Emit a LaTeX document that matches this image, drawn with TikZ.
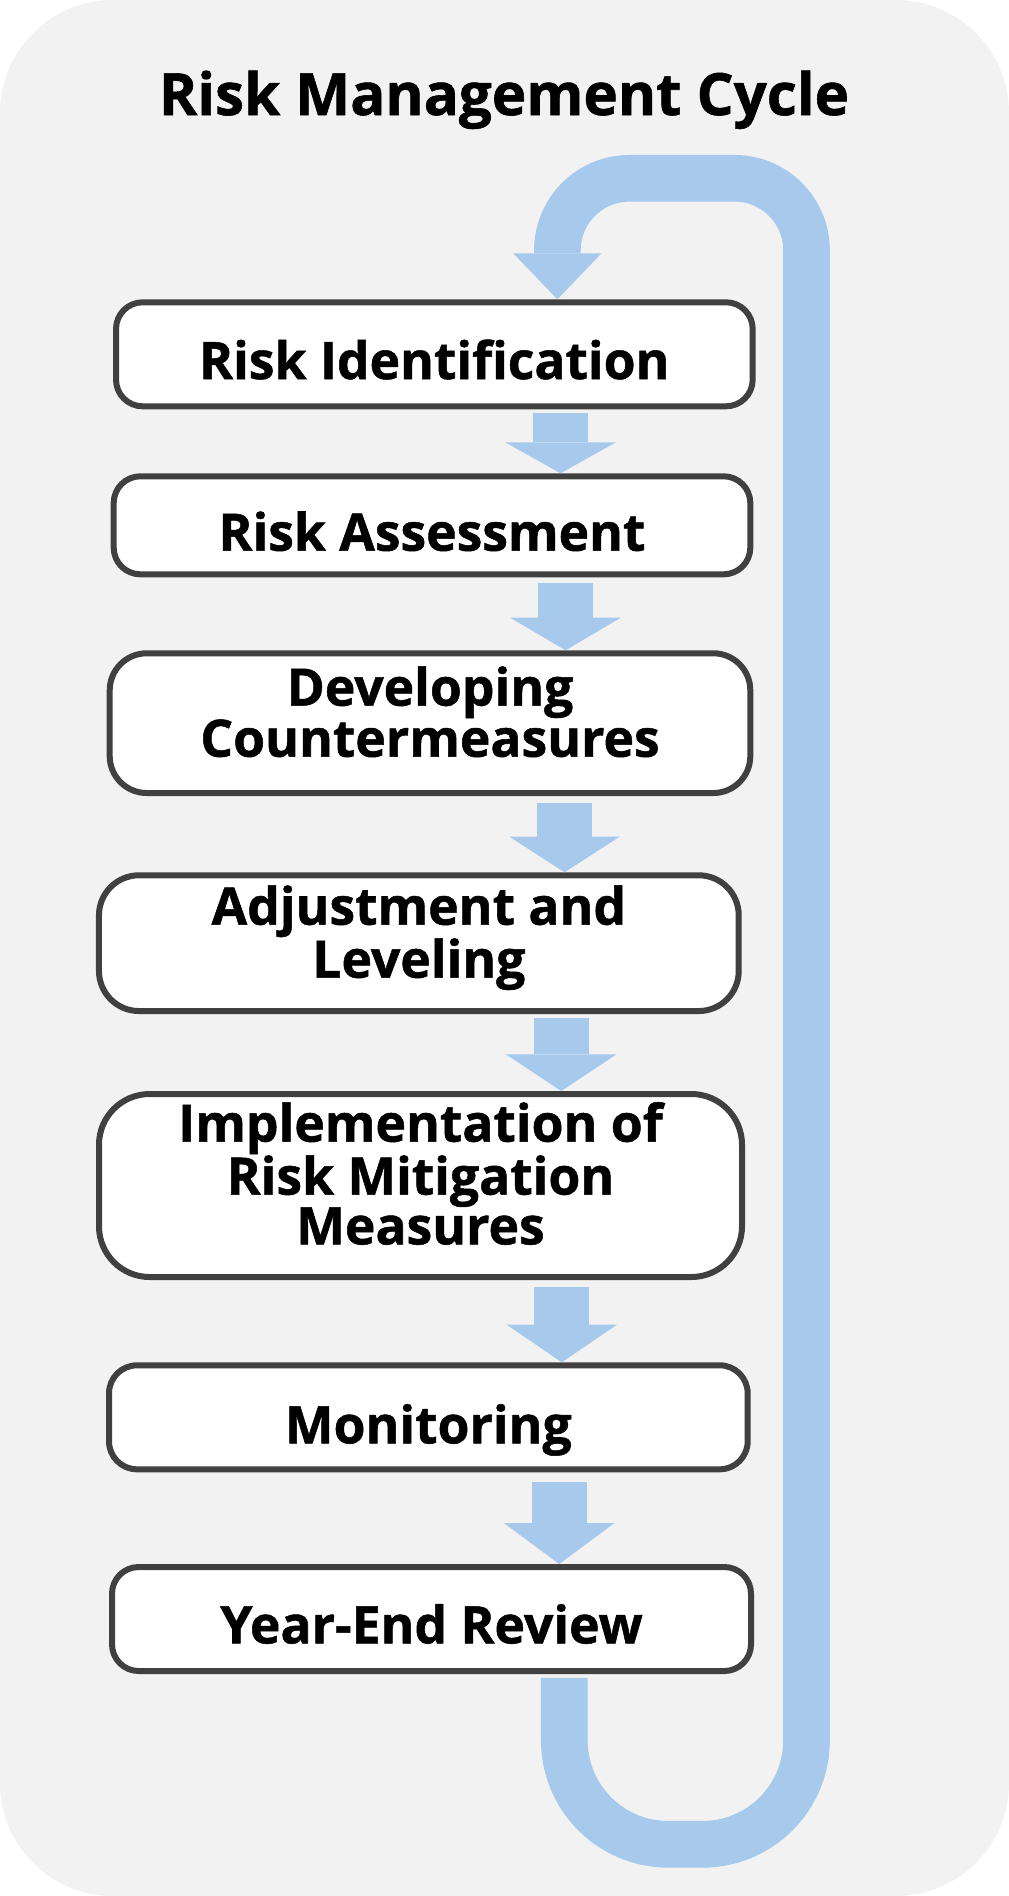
\documentclass[tikz,border=0pt]{standalone}
\usepackage{fontspec}
\setmainfont{Open Sans}[BoldFeatures={FakeBold=1}]
\usetikzlibrary{arrows.meta}
\definecolor{bgc}{HTML}{F2F2F2}
\definecolor{arrc}{HTML}{A7CAEC}
\definecolor{boxc}{HTML}{404040}
\begin{document}
\begin{tikzpicture}[x=0.75pt,y=-0.75pt,
  stepbox/.style={draw=boxc, line width=4.5pt, fill=white, rectangle, inner sep=0pt, rounded corners=#1},
  lbl/.style={anchor=base, inner sep=0pt, align=center, font=\fontsize{38.7}{37.3}\selectfont\bfseries},
  blockarr/.style={draw=arrc, line width=41.5pt, -{Triangle[width=83pt, length=#1, line width=0pt]}},
  loopar/.style={draw=arrc, line width=35pt, -{Triangle[width=66.2pt, length=34.5pt, line width=0pt]}}]
\useasboundingbox (0,0) rectangle (1009,1896);
\fill[bgc, rounded corners=84.75pt] (0,0) rectangle (1009,1896);
\node[font=\fontsize{43.7}{50}\selectfont\bfseries, anchor=base, inner sep=0pt] (title) at (504,115) {Risk Management Cycle};
% boxes
\node[stepbox=20pt, minimum width=477.5pt, minimum height=78pt] (b1) at (434.35,354.3) {};
\node[stepbox=20pt, minimum width=477.45pt, minimum height=73.5pt] (b2) at (432,525.3) {};
\node[stepbox=27.75pt, minimum width=480.45pt, minimum height=104.8pt] (b3) at (430,723.15) {};
\node[stepbox=30pt, minimum width=479.8pt, minimum height=101.8pt] (b4) at (418.85,943.15) {};
\node[stepbox=38pt, minimum width=482.25pt, minimum height=137.25pt] (b5) at (420.5,1185.5) {};
\node[stepbox=21pt, minimum width=479pt, minimum height=78pt] (b6) at (428.35,1417.3) {};
\node[stepbox=20pt, minimum width=479.25pt, minimum height=78pt] (b7) at (431.5,1619) {};
% labels (multi-line nodes: base = last line)
\node[lbl] (t1) at (434.35,379) {Risk Identification};
\node[lbl] (t2) at (432,550.7) {Risk Assessment};
\node[lbl] (t3) at (430,756.7) {Developing\\Countermeasures};
\node[lbl] (t4) at (418.85,977.6) {Adjustment and\\Leveling};
\node[lbl] (t5) at (420.5,1244.3) {Implementation of\\Risk Mitigation\\Measures};
\node[lbl] (t6) at (428.35,1443.3) {Monitoring};
\node[lbl] (t7) at (431.5,1643.3) {Year-End Review};
% step arrows
\draw[blockarr=23.25pt, shorten <=2.55pt] (560.5,0 |- b1.south) -- (560.5,0 |- b2.north);
\draw[blockarr=24.45pt, shorten <=4.5pt] (565.5,0 |- b2.south) -- (565.5,0 |- b3.north);
\draw[blockarr=26.8pt, shorten <=5pt] (564.5,0 |- b3.south) -- (564.5,0 |- b4.north);
\draw[blockarr=27.5pt, shorten <=2.8pt] (561.2,0 |- b4.south) -- (561.2,0 |- b5.north);
\draw[blockarr=28.3pt, shorten <=5.5pt] (561.8,0 |- b5.south) -- (561.8,0 |- b6.north);
\draw[blockarr=30.75pt, shorten <=7.5pt] (559.2,0 |- b6.south) -- (559.2,0 |- b7.north);
% feedback loop
\draw[loopar, shorten <=2.8pt] (564.3,0 |- b7.south) [rounded corners=78pt] -- (564.3,1844.3) -- (806.5,1844.3) -- (806.5,1000) [rounded corners=54pt] -- (806.5,178.3) -- (557.4,178.3) -- (557.4,0 |- b1.north);
\end{tikzpicture}
\end{document}
